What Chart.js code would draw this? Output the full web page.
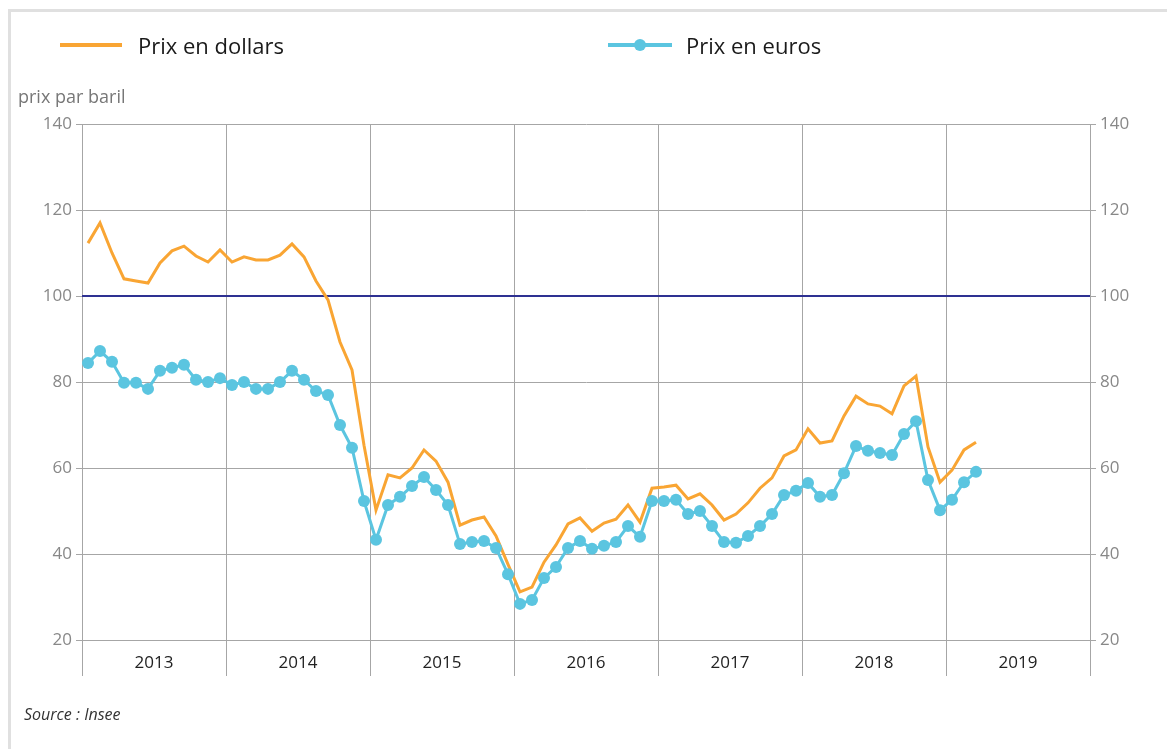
<!DOCTYPE html>
<html>
<head>
<meta charset="utf-8">
<script src="https://cdn.jsdelivr.net/npm/chart.js@4.4.1/dist/chart.umd.min.js"></script>
<style>
  html, body { margin:0; padding:0; background:#fff; }
  body { width:1167px; height:749px; position:relative; overflow:hidden; font-family:"Open Sans", sans-serif; }
  #frame { position:absolute; left:8px; top:9px; width:1170px; height:760px; border-top:3px solid #e0e0e0; border-left:3px solid #e0e0e0; }
  #wrap { position:absolute; left:0; top:0; width:1167px; height:749px; }
  .leg { position:absolute; top:30px; font-size:22px; color:#1a1a1a; line-height:30px; }
  .legline { position:absolute; height:4px; }
  #ytitle { position:absolute; left:18px; top:84px; font-size:18px; color:#777; }
  #source { position:absolute; left:24px; top:703px; font-size:16px; font-style:italic; color:#333; }
</style>
</head>
<body>
<div id="frame"></div>
<div id="wrap"><canvas id="c" width="1167" height="749"></canvas></div>
<div class="legline" style="left:60px; top:43px; width:62px; background:#f9a533;"></div>
<div class="leg" style="left:138px;">Prix en dollars</div>
<div class="legline" style="left:608px; top:43px; width:64px; background:#5bc5e0;"></div>
<div style="position:absolute; left:634px; top:39px; width:12px; height:12px; border-radius:6px; background:#5bc5e0;"></div>
<div class="leg" style="left:686px;">Prix en euros</div>
<div id="ytitle">prix par baril</div>
<div id="source">Source : Insee</div>
<script>
const years = ['2013','2014','2015','2016','2017','2018','2019'];
const yTicks = [20, 40, 60, 80, 100, 120, 140];
const referenceLevel = 100;
// monthly values, Jan 2013 - Mar 2019
const prixDollars = [
  112.3, 117.0, 110.0, 104.0, 103.5, 103.0, 107.7, 110.5, 111.6, 109.3, 107.9, 110.7,
  107.9, 109.1, 108.4, 108.4, 109.5, 112.1, 109.1, 103.5, 99.1, 89.3, 82.8, 65.3,
  50.2, 58.4, 57.7, 60.0, 64.2, 61.6, 56.7, 46.7, 47.9, 48.6, 44.2, 37.6,
  31.2, 32.3, 38.1, 42.1, 47.0, 48.4, 45.3, 47.2, 48.1, 51.4, 47.4, 55.3,
  55.6, 56.0, 52.8, 54.0, 51.4, 47.9, 49.3, 51.9, 55.3, 57.7, 62.8, 64.2,
  69.1, 65.8, 66.3, 72.1, 76.7, 74.9, 74.4, 72.6, 79.1, 81.4, 64.9, 56.7,
  59.5, 64.2, 66.0
];
const prixEuros = [
  84.4, 87.2, 84.7, 79.8, 79.8, 78.4, 82.6, 83.3, 84.0, 80.5, 80.0, 80.9,
  79.3, 80.0, 78.4, 78.4, 80.0, 82.6, 80.5, 77.9, 77.0, 70.0, 64.7, 52.3,
  43.3, 51.4, 53.3, 55.8, 57.9, 54.9, 51.4, 42.3, 42.8, 43.0, 41.4, 35.3,
  28.4, 29.3, 34.4, 37.0, 41.4, 43.0, 41.2, 41.9, 42.8, 46.5, 44.0, 52.3,
  52.3, 52.6, 49.3, 50.0, 46.5, 42.8, 42.6, 44.2, 46.5, 49.3, 53.7, 54.7,
  56.5, 53.3, 53.7, 58.8, 65.1, 64.0, 63.5, 63.0, 67.9, 70.9, 57.2, 50.2,
  52.6, 56.7, 59.1
];

const nMonths = years.length * 12;
const toPts = arr => arr.map((v, i) => ({ x: i + 0.5, y: v }));
const gridCol = '#a6a6a6';

new Chart(document.getElementById('c'), {
  type: 'line',
  data: {
    datasets: [
      { label: 'ref', data: [{x:0, y:referenceLevel}, {x:nMonths, y:referenceLevel}], borderColor:'#2e3192', borderWidth:2, pointRadius:0, order:3 },
      { label: 'Prix en dollars', data: toPts(prixDollars), borderColor:'#f9a533', borderWidth:3, pointRadius:0, tension:0, order:2 },
      { label: 'Prix en euros', data: toPts(prixEuros), borderColor:'#5bc5e0', backgroundColor:'#5bc5e0', borderWidth:3, pointRadius:6, pointBorderWidth:0, tension:0, order:1 }
    ]
  },
  options: {
    responsive:false, animation:false, events:[],
    layout: { padding: { left:0, right:0, top:124, bottom:0 } },
    plugins: { legend:{display:false}, tooltip:{enabled:false} },
    scales: {
      x: {
        type:'linear', min:0, max:nMonths,
        afterBuildTicks: s => { const t=[]; for (let v=0; v<=nMonths; v+=6) t.push({value:v}); s.ticks=t; },
        afterFit: s => { s.height = 109; },
        grid: {
          color: ctx => (ctx.tick && ctx.tick.value % 12 === 0) ? gridCol : 'rgba(0,0,0,0)',
          lineWidth: 1, tickLength: 36
        },
        border: { color: gridCol, width: 1 },
        ticks: {
          autoSkip:false, maxRotation:0, padding:-23,
          font: { family:'"Open Sans"', size:17 }, color:'#222',
          callback: v => (v % 12 === 6) ? years[(v - 6) / 12] : ''
        }
      },
      y: {
        position:'left', min:20, max:140,
        afterBuildTicks: s => { s.ticks = yTicks.map(v => ({value:v})); },
        afterFit: s => { s.width = 82; },
        grid: { color: gridCol, lineWidth:1, tickLength:6 },
        border: { color: gridCol },
        ticks: { font:{ family:'"Open Sans"', size:17 }, color:'#888', padding:4 }
      },
      y2: {
        position:'right', min:20, max:140,
        afterBuildTicks: s => { s.ticks = yTicks.map(v => ({value:v})); },
        afterFit: s => { s.width = 77; },
        grid: { drawOnChartArea:false, color: gridCol, tickLength:6 },
        border: { color: gridCol },
        ticks: { font:{ family:'"Open Sans"', size:17 }, color:'#888', padding:4 }
      }
    }
  }
});
</script>
</body>
</html>
